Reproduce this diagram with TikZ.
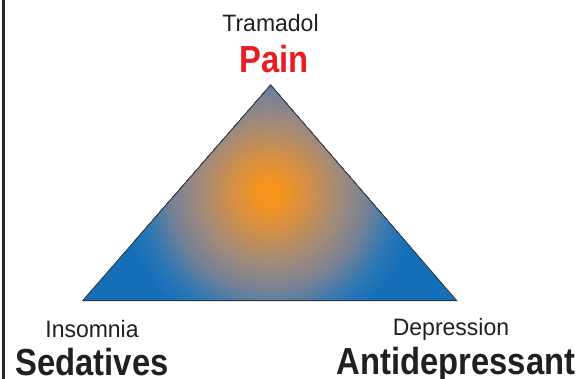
\documentclass[tikz,border=0pt]{standalone}
\usepackage{fontspec}
\setmainfont{Liberation Sans}
\newfontfamily\condreg{Liberation Sans}[FakeStretch=0.97]
\newfontfamily\condbold{Liberation Sans}[FakeStretch=0.87]
\definecolor{sA}{RGB}{247,148,29}
\definecolor{sB}{RGB}{218,144,64}
\definecolor{sC}{RGB}{160,138,124}
\definecolor{sD}{RGB}{122,130,148}
\definecolor{sE}{RGB}{44,119,181}
\definecolor{sF}{RGB}{20,110,184}
\definecolor{cRed}{HTML}{ED1C24}
\definecolor{cText}{HTML}{231F20}
\tikzset{
  small/.style={inner sep=0pt, anchor=base, text=cText, font=\condreg\fontsize{23.7}{28}\selectfont},
  big/.style={inner sep=0pt, anchor=base, text=cText, font=\condbold\bfseries\fontsize{37.7}{44}\selectfont},
  edge/.style={draw=black!80, line width=0.8pt, line join=miter}
}
% \ringseg{r0}{r1}{inner colour}{outer colour}
\newcommand{\ringseg}[4]{%
  \foreach \r in {#2,...,#1}{%
    \pgfmathsetmacro\fr{100*(\r-#1)/(#2-#1)}%
    \fill[#4!\fr!#3] (C) circle[radius=\r];
  }%
}
\begin{document}
\begin{tikzpicture}[x=1pt,y=-1pt]
\useasboundingbox (0,0) rectangle (586,379);
\fill[white] (0,0) rectangle (586,379);
\fill[black!85] (2,0) rectangle (4.6,379);
\coordinate (A) at (270.6,85);
\coordinate (L) at (82.7,300.6);
\coordinate (R) at (456.7,300.6);
\coordinate (C) at (270,193);
\begin{scope}
\clip (A) -- (L) -- (R) -- cycle;
\fill[sF] (70,80) rectangle (470,310);
\ringseg{128}{150}{sE}{sF}
\ringseg{97}{127}{sD}{sE}
\ringseg{72}{96}{sC}{sD}
\ringseg{35}{71}{sB}{sC}
\ringseg{12}{34}{sA}{sB}
\fill[sA] (C) circle[radius=11];
\end{scope}
\draw[edge] (A) -- (L) -- (R) -- cycle;
\node[small] (tram) at (270.5,32) {Tramadol};
\node[big, text=cRed] (pain) at (274,73) {Pain};
\node[small] (ins) at (92,337) {Insomnia};
\node[big] (sed) at (92,375) {Sedatives};
\node[small] (dep) at (451,335.5) {Depression};
\node[big] (anti) at (456,374.5) {Antidepressant};
\end{tikzpicture}
\end{document}
